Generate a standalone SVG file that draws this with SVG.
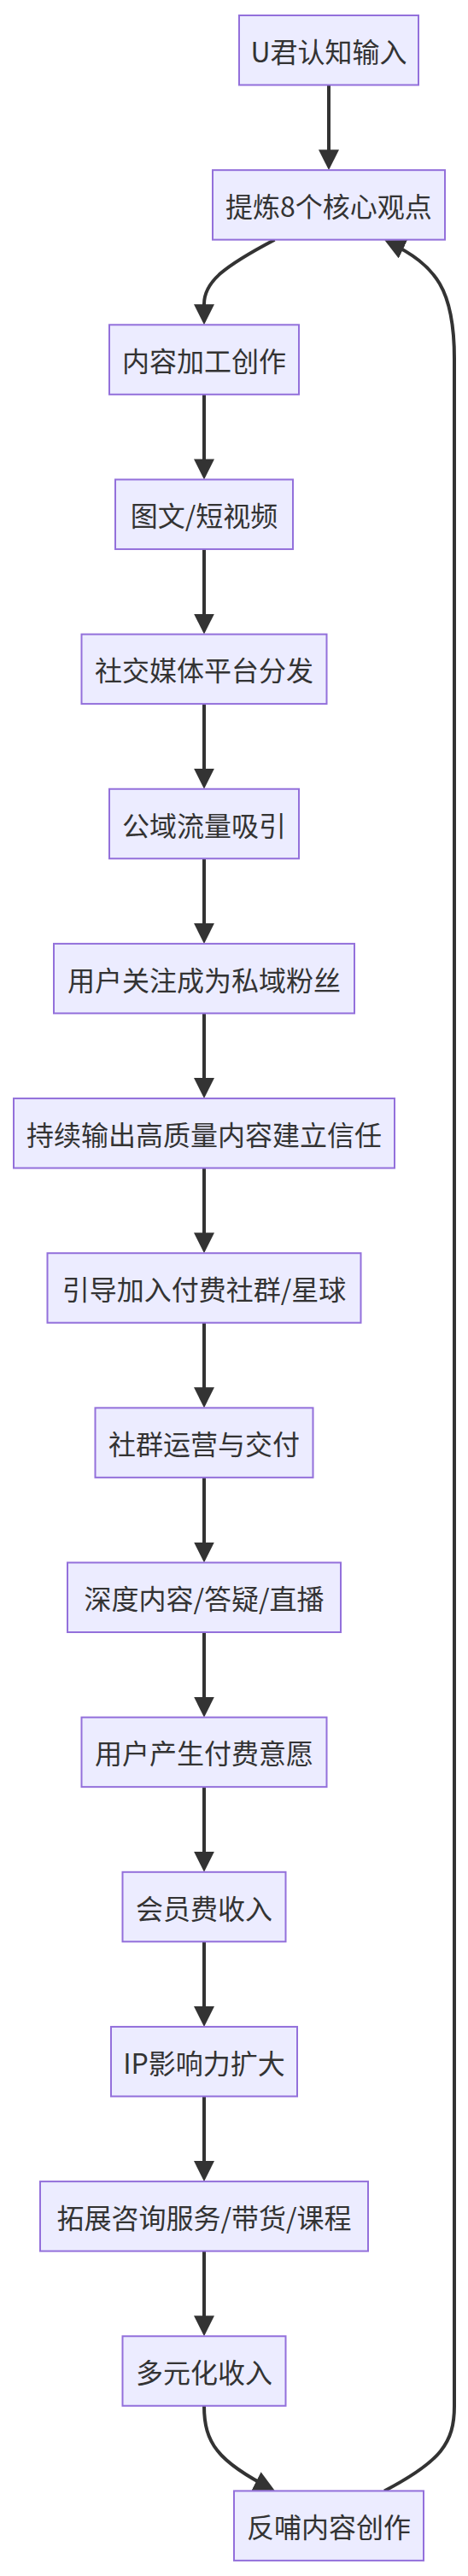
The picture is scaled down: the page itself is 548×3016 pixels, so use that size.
<svg xmlns="http://www.w3.org/2000/svg" width="548" height="3016" viewBox="0 0 548 3016">
<style>
.node rect{fill:#ECECFF;stroke:#9370DB;stroke-width:2}
.node text{font-family:"Noto Sans CJK SC","Noto Sans",sans-serif;font-size:32px;fill:#333333;text-anchor:middle;dominant-baseline:central}
.edge{fill:none;stroke:#333333;stroke-width:4;marker-end:url(#arrow)}
</style>
<defs>
<marker id="arrow" viewBox="0 0 24 24" refX="20" refY="12" markerWidth="24" markerHeight="24" markerUnits="userSpaceOnUse" orient="auto">
<path d="M0,0 L24,12 L0,24 z" fill="#333333"/>
</marker>
</defs>
<rect width="548" height="3016" fill="#ffffff"/>
<g id="connectors">
<path class="edge" d="M385,99.5 L385,195.15"/>
<path class="edge" d="M321.5,280.65 C262,312 239,330 239,356 L239,376.3"/>
<path class="edge" d="M239,461.8 L239,557.45"/>
<path class="edge" d="M239,642.95 L239,738.6"/>
<path class="edge" d="M239,824.1 L239,919.75"/>
<path class="edge" d="M239,1005.25 L239,1100.9"/>
<path class="edge" d="M239,1186.4 L239,1282.05"/>
<path class="edge" d="M239,1367.55 L239,1463.2"/>
<path class="edge" d="M239,1548.7 L239,1644.35"/>
<path class="edge" d="M239,1729.85 L239,1825.5"/>
<path class="edge" d="M239,1911 L239,2006.65"/>
<path class="edge" d="M239,2092.15 L239,2187.8"/>
<path class="edge" d="M239,2273.3 L239,2368.95"/>
<path class="edge" d="M239,2454.45 L239,2550.1"/>
<path class="edge" d="M239,2635.6 L239,2731.25"/>
<path class="edge" d="M239,2816.75 C239,2860 255,2882 318,2914"/>
<path class="edge" d="M450,2916.4 C516,2882 532,2860 532,2817 L532,420 C532,340 512,311 454,283"/>
</g>
<g id="n0" class="node"><rect x="280" y="18" width="210" height="81.5"/><text x="385" y="58.75">U君认知输入</text></g>
<g id="n1" class="node"><rect x="249" y="199.15" width="272" height="81.5"/><text x="385" y="239.9">提炼8个核心观点</text></g>
<g id="n2" class="node"><rect x="128" y="380.3" width="222" height="81.5"/><text x="239" y="421.05">内容加工创作</text></g>
<g id="n3" class="node"><rect x="135" y="561.45" width="208" height="81.5"/><text x="239" y="602.2">图文/短视频</text></g>
<g id="n4" class="node"><rect x="95.5" y="742.6" width="287" height="81.5"/><text x="239" y="783.35">社交媒体平台分发</text></g>
<g id="n5" class="node"><rect x="128" y="923.75" width="222" height="81.5"/><text x="239" y="964.5">公域流量吸引</text></g>
<g id="n6" class="node"><rect x="63" y="1104.9" width="352" height="81.5"/><text x="239" y="1145.65">用户关注成为私域粉丝</text></g>
<g id="n7" class="node"><rect x="16" y="1286.05" width="446" height="81.5"/><text x="239" y="1326.8">持续输出高质量内容建立信任</text></g>
<g id="n8" class="node"><rect x="55.5" y="1467.2" width="367" height="81.5"/><text x="239" y="1507.95">引导加入付费社群/星球</text></g>
<g id="n9" class="node"><rect x="111.5" y="1648.35" width="255" height="81.5"/><text x="239" y="1689.1">社群运营与交付</text></g>
<g id="n10" class="node"><rect x="79" y="1829.5" width="320" height="81.5"/><text x="239" y="1870.25">深度内容/答疑/直播</text></g>
<g id="n11" class="node"><rect x="95.5" y="2010.65" width="287" height="81.5"/><text x="239" y="2051.4">用户产生付费意愿</text></g>
<g id="n12" class="node"><rect x="143.5" y="2191.8" width="191" height="81.5"/><text x="239" y="2232.55">会员费收入</text></g>
<g id="n13" class="node"><rect x="130" y="2372.95" width="218" height="81.5"/><text x="239" y="2413.7">IP影响力扩大</text></g>
<g id="n14" class="node"><rect x="47" y="2554.1" width="384" height="81.5"/><text x="239" y="2594.85">拓展咨询服务/带货/课程</text></g>
<g id="n15" class="node"><rect x="143.5" y="2735.25" width="191" height="81.5"/><text x="239" y="2776">多元化收入</text></g>
<g id="n16" class="node"><rect x="274" y="2916.4" width="222" height="81.5"/><text x="385" y="2957.15">反哺内容创作</text></g>
</svg>
